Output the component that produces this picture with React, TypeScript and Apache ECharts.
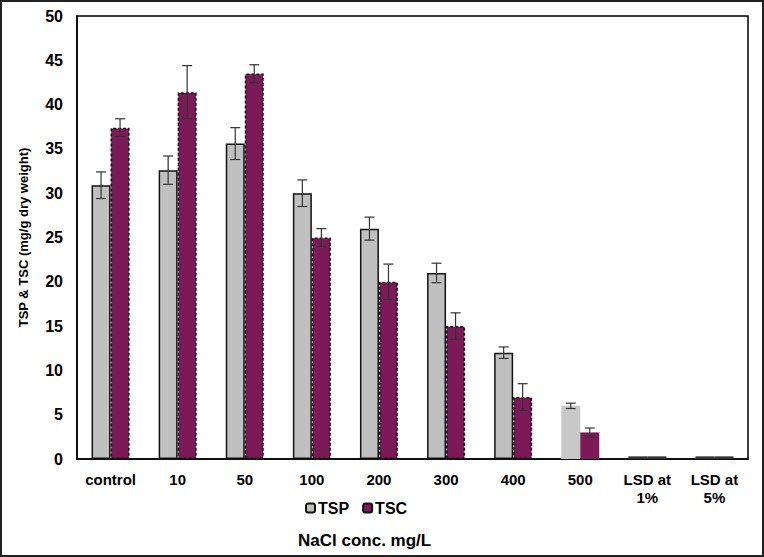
import React, { useEffect, useRef } from "react";
import * as echarts from "echarts";

const categories = ["control", "10", "50", "100", "200", "300", "400", "500", "LSD at\n1%", "LSD at\n5%"];
const tspValues = [30.9, 32.6, 35.6, 30.0, 26.0, 21.0, 12.0, 6.0, 0.3, 0.3];
const tscValues = [37.4, 41.4, 43.5, 25.0, 20.0, 15.0, 7.0, 3.0, 0.3, 0.3];
const tspErr = [1.5, 1.6, 1.8, 1.5, 1.3, 1.1, 0.65, 0.3, 0, 0];
const tscErr = [1.0, 3.0, 1.0, 1.0, 2.0, 1.5, 1.5, 0.5, 0, 0];
const yTicks = { min: 0, max: 50, interval: 5 };
const xTitle = "NaCl conc. mg/L";
const yTitle = "TSP & TSC (mg/g dry weight)";

const TSP_COLOR = "#C0C0C0";
const TSC_COLOR = "#7B1A57";
const BAR_W = 19;

function errorSeries(values: number[], errs: number[], offset: number) {
  const data = values.map((v, i) => [i, v, errs[i]]);
  return {
    type: "custom",
    silent: true,
    z: 10,
    data,
    renderItem: (params: any, api: any) => {
      const i = api.value(0);
      const v = api.value(1);
      const e = api.value(2);
      if (!e) return null;
      const top = api.coord([i, v + e]);
      const bot = api.coord([i, v - e]);
      const x = top[0] + offset;
      const cap = 5;
      const style = { stroke: "#333", lineWidth: 1.2 };
      return {
        type: "group",
        children: [
          { type: "line", shape: { x1: x, y1: top[1], x2: x, y2: bot[1] }, style },
          { type: "line", shape: { x1: x - cap, y1: top[1], x2: x + cap, y2: top[1] }, style },
          { type: "line", shape: { x1: x - cap, y1: bot[1], x2: x + cap, y2: bot[1] }, style },
        ],
      };
    },
  };
}

export default function App() {
  const ref = useRef<HTMLDivElement>(null);
  useEffect(() => {
    document.body.style.margin = "0";
    if (!ref.current) return;
    const chart = echarts.init(ref.current, undefined, { renderer: "svg" });
    const font = "Liberation Sans, Arial, sans-serif";
    const tspData = tspValues.map((v, i) => {
      if (i === 7) return { value: v, itemStyle: { borderWidth: 0, color: "#C8C8C8" } };
      if (i >= 8) return { value: v, itemStyle: { color: "#333", borderWidth: 0 } };
      return v;
    });
    const tscData = tscValues.map((v, i) => {
      if (i === 7) return { value: v, itemStyle: { borderWidth: 0 } };
      if (i >= 8) return { value: v, itemStyle: { color: "#333", borderWidth: 0 } };
      return v;
    });
    chart.setOption({
      animation: false,
      backgroundColor: "#fff",
      grid: {
        left: 75,
        right: 14,
        top: 14,
        bottom: 96,
        show: true,
        borderColor: "#000",
        borderWidth: 1.5,
      },
      legend: {
        left: 298,
        top: 493,
        itemWidth: 9,
        itemHeight: 9,
        itemGap: 13,
        textStyle: { fontFamily: font, fontWeight: "bold", fontSize: 16, color: "#000", padding: [0, 0, 0, -2] },
        data: ["TSP", "TSC"],
      },
      graphic: [
        {
          type: "text",
          left: 296,
          top: 530,
          style: {
            text: xTitle,
            fontFamily: font,
            fontWeight: "bold",
            fontSize: 17,
            fill: "#000",
          },
        },
      ],
      xAxis: {
        type: "category",
        data: categories,
        axisLine: { lineStyle: { color: "#000", width: 1.5 } },
        axisTick: { show: false },
        axisLabel: {
          fontFamily: font,
          fontWeight: "bold",
          fontSize: 15,
          color: "#000",
          margin: 11,
          lineHeight: 18,
          interval: 0,
        },
      },
      yAxis: {
        type: "value",
        min: yTicks.min,
        max: yTicks.max,
        interval: yTicks.interval,
        name: yTitle,
        nameLocation: "middle",
        nameGap: 47,
        nameTextStyle: { fontFamily: font, fontWeight: "bold", fontSize: 13, color: "#000" },
        axisLine: { show: true, lineStyle: { color: "#000", width: 1.5 } },
        axisTick: { show: false },
        splitLine: { show: false },
        axisLabel: {
          fontFamily: font,
          fontWeight: "bold",
          fontSize: 16,
          color: "#000",
          margin: 14,
        },
      },
      series: [
        {
          name: "TSP",
          type: "bar",
          barWidth: BAR_W,
          barGap: "0%",
          data: tspData,
          itemStyle: { color: TSP_COLOR, borderColor: "#111", borderWidth: 1.5 },
        },
        {
          name: "TSC",
          type: "bar",
          barWidth: BAR_W,
          barGap: "0%",
          data: tscData,
          itemStyle: { color: TSC_COLOR, borderColor: "#111", borderWidth: 1.5, borderType: [3, 2] },
        },
        errorSeries(tspValues, tspErr, -BAR_W / 2),
        errorSeries(tscValues, tscErr, BAR_W / 2),
      ],
    });
    return () => chart.dispose();
  }, []);
  return (
    <div
      ref={ref}
      style={{ width: 764, height: 557, boxSizing: "border-box", border: "2px solid #222" }}
    />
  );
}
